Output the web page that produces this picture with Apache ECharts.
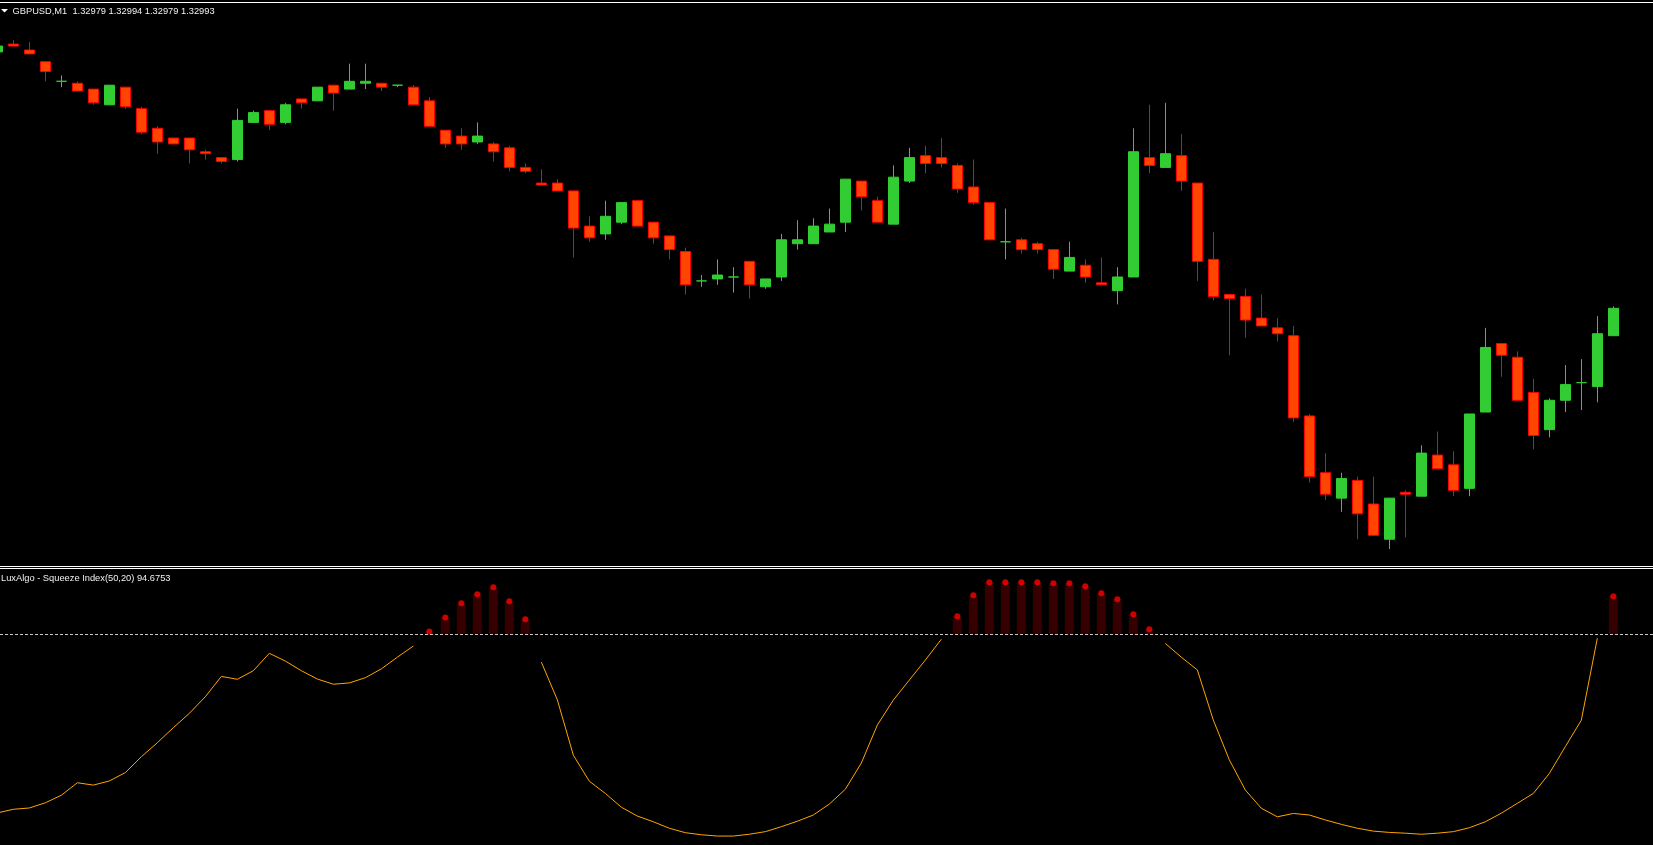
<!DOCTYPE html>
<html>
<head>
<meta charset="utf-8">
<script src="https://cdn.jsdelivr.net/npm/echarts@6/dist/echarts.min.js"></script>
<style>
html,body{margin:0;padding:0;background:#000;}
#c{width:1653px;height:845px;}
</style>
</head>
<body>
<div id="c"></div>
<script>
// ---- data (GBPUSD M1), one entry per bar, oldest first ----
const opens = [1.33124,1.33128,1.33125,1.33119,1.33109,1.33108,1.33105,1.33097,1.33106,1.33095,1.33085,1.33080,1.33080,1.33073,1.33070,1.33069,1.33088,1.33094,1.33088,1.33100,1.33099,1.33107,1.33105,1.33108,1.33108,1.33107,1.33106,1.33099,1.33084,1.33081,1.33078,1.33077,1.33075,1.33065,1.33057,1.33057,1.33053,1.33035,1.33031,1.33037,1.33048,1.33037,1.33030,1.33022,1.33007,1.33008,1.33009,1.33017,1.33004,1.33009,1.33026,1.33026,1.33032,1.33037,1.33058,1.33048,1.33036,1.33058,1.33071,1.33070,1.33066,1.33055,1.33047,1.33027,1.33028,1.33026,1.33023,1.33012,1.33015,1.33006,1.33002,1.33009,1.33070,1.33065,1.33071,1.33057,1.33018,1.33000,1.32999,1.32988,1.32983,1.32979,1.32938,1.32909,1.32896,1.32905,1.32893,1.32875,1.32899,1.32897,1.32918,1.32913,1.32901,1.32940,1.32975,1.32968,1.32950,1.32931,1.32946,1.32955,1.32953,1.32979];
const highs = [1.33127,1.33130,1.33129,1.33119,1.33112,1.33109,1.33105,1.33107,1.33106,1.33096,1.33086,1.33080,1.33080,1.33074,1.33070,1.33095,1.33094,1.33094,1.33098,1.33100,1.33106,1.33107,1.33118,1.33118,1.33108,1.33107,1.33107,1.33101,1.33084,1.33085,1.33088,1.33078,1.33076,1.33067,1.33064,1.33059,1.33053,1.33040,1.33048,1.33047,1.33048,1.33037,1.33030,1.33024,1.33010,1.33018,1.33014,1.33017,1.33008,1.33031,1.33038,1.33039,1.33044,1.33059,1.33058,1.33050,1.33066,1.33075,1.33076,1.33080,1.33067,1.33069,1.33047,1.33044,1.33029,1.33027,1.33023,1.33027,1.33018,1.33019,1.33014,1.33085,1.33097,1.33098,1.33082,1.33057,1.33032,1.33000,1.33003,1.33000,1.32988,1.32984,1.32939,1.32919,1.32909,1.32907,1.32907,1.32896,1.32900,1.32923,1.32930,1.32920,1.32939,1.32983,1.32975,1.32971,1.32957,1.32947,1.32964,1.32967,1.32989,1.32994];
const lows = [1.33124,1.33127,1.33123,1.33109,1.33106,1.33104,1.33097,1.33097,1.33095,1.33082,1.33072,1.33077,1.33067,1.33069,1.33067,1.33068,1.33088,1.33084,1.33087,1.33095,1.33099,1.33094,1.33105,1.33105,1.33104,1.33106,1.33097,1.33086,1.33075,1.33074,1.33077,1.33068,1.33063,1.33062,1.33056,1.33053,1.33019,1.33027,1.33028,1.33036,1.33035,1.33026,1.33018,1.33000,1.33004,1.33005,1.33001,1.32998,1.33003,1.33007,1.33023,1.33026,1.33032,1.33032,1.33043,1.33037,1.33036,1.33057,1.33062,1.33065,1.33052,1.33046,1.33028,1.33018,1.33021,1.33021,1.33008,1.33012,1.33006,1.33005,1.32995,1.33009,1.33062,1.33065,1.33053,1.33007,1.32997,1.32969,1.32978,1.32984,1.32976,1.32935,1.32904,1.32895,1.32889,1.32875,1.32877,1.32870,1.32876,1.32897,1.32911,1.32897,1.32897,1.32940,1.32958,1.32946,1.32921,1.32927,1.32940,1.32941,1.32945,1.32979];
const closes = [1.33127,1.33127,1.33123,1.33114,1.33109,1.33104,1.33098,1.33107,1.33096,1.33083,1.33078,1.33077,1.33074,1.33072,1.33068,1.33089,1.33093,1.33087,1.33097,1.33098,1.33106,1.33103,1.33109,1.33109,1.33106,1.33107,1.33097,1.33086,1.33077,1.33077,1.33081,1.33073,1.33065,1.33063,1.33056,1.33053,1.33034,1.33029,1.33040,1.33047,1.33035,1.33029,1.33023,1.33005,1.33007,1.33010,1.33009,1.33005,1.33008,1.33028,1.33028,1.33035,1.33036,1.33059,1.33050,1.33037,1.33060,1.33070,1.33067,1.33067,1.33054,1.33047,1.33028,1.33027,1.33023,1.33023,1.33013,1.33019,1.33009,1.33005,1.33009,1.33073,1.33066,1.33072,1.33058,1.33017,1.32999,1.32998,1.32987,1.32984,1.32980,1.32937,1.32907,1.32898,1.32906,1.32888,1.32877,1.32896,1.32898,1.32919,1.32911,1.32900,1.32939,1.32973,1.32969,1.32946,1.32928,1.32946,1.32954,1.32955,1.32980,1.32993];
// LuxAlgo Squeeze Index(50,20), same bars
const squeeze = [11.3,12.7,13.2,15.2,18.1,22.9,22.0,23.6,26.8,32.9,38.3,44.1,49.6,56.0,63.8,62.7,66.0,72.7,69.7,66.0,62.8,60.8,61.3,63.3,66.7,71.2,75.5,
  81.1,86.5,91.9,95.4,98.1,92.7,85.8,
  69.3,54.8,33.5,23.5,18.8,13.5,10.1,7.9,5.4,3.7,2.9,2.4,2.4,3.1,4.1,6.0,8.1,10.5,14.7,20.4,30.5,45.1,54.7,62.4,70.1,78.1,
  86.9,95.0,100,100,100,100,99.6,99.6,98.5,95.8,93.5,87.7,81.9,
  76.5,71.2,66.3,47.0,31.7,20.1,13.1,9.8,11.1,10.5,8.6,6.9,5.4,4.3,3.8,3.5,3.1,3.5,4.1,5.6,7.9,11.2,15.0,18.8,26.5,36.8,47.0,78.5,
  94.6753];
const LEVEL = 80;
const headerText = 'GBPUSD,M1  1.32979 1.32994 1.32979 1.32993';
const indicatorText = 'LuxAlgo - Squeeze Index(50,20) 94.6753';

// ---- build ----
// bar number on a value x axis (first, partly hidden bar is -1)
const UP = '#32CD32', DN_FILL = '#FF4500', DN_LINE = '#FF0000';
const candleData = opens.map((o, i) => {
  const up = closes[i] >= o;
  const c = up ? UP : DN_FILL, b = up ? UP : DN_LINE;
  return {value: [i - 1, o, closes[i], lows[i], highs[i]],
    itemStyle: {color: c, color0: c, borderColor: b, borderColor0: b, borderColorDoji: b}};
});
const lineData = squeeze.map((v, i) => [i - 1, v < LEVEL ? v : '-']);
const histData = squeeze.map((v, i) => [i - 1, v]).filter(p => p[1] >= LEVEL);

const X_MIN = -0.8333, X_MAX = 102.479;
const chart = echarts.init(document.getElementById('c'), null, {renderer: 'canvas'});
chart.setOption({
  animation: false,
  backgroundColor: '#000000',
  grid: [
    {left: 0, right: 0, top: 3, height: 563},
    {left: 0, right: 0, top: 569, height: 276}
  ],
  xAxis: [
    {type: 'value', gridIndex: 0, min: X_MIN, max: X_MAX, show: false, splitLine: {show: false}},
    {type: 'value', gridIndex: 1, min: X_MIN, max: X_MAX, show: false, splitLine: {show: false}}
  ],
  yAxis: [
    {type: 'value', gridIndex: 0, min: 1.3286132, max: 1.3314900, show: false, splitLine: {show: false}},
    {type: 'value', gridIndex: 1, min: -1.038, max: 105.12, show: false, splitLine: {show: false}}
  ],
  series: [
    {type: 'candlestick', xAxisIndex: 0, yAxisIndex: 0, data: candleData, barWidth: 10,
      encode: {x: 0, y: [1, 2, 3, 4]},
      itemStyle: {borderWidth: 1}},
    {type: 'custom', xAxisIndex: 1, yAxisIndex: 1, data: histData, encode: {x: 0, y: 1},
      renderItem: function (params, api) {
        const x = api.value(0), v = api.value(1);
        const top = api.coord([x, v]);
        const base = api.coord([x, LEVEL]);
        const w = api.size([1, 0])[0] * 9 / 16;
        return {type: 'rect', shape: {x: top[0] - w / 2, y: top[1], width: w, height: base[1] - top[1]},
          style: {fill: '#360000'}};
      }},
    {type: 'line', xAxisIndex: 1, yAxisIndex: 1, data: lineData, showSymbol: false, connectNulls: false,
      lineStyle: {color: '#FFA500', width: 1}, itemStyle: {color: '#FFA500'},
      markLine: {silent: true, symbol: 'none', label: {show: false},
        lineStyle: {color: '#C8C8C8', width: 1, type: [3, 2]},
        data: [{yAxis: LEVEL}]}},
    {type: 'scatter', xAxisIndex: 1, yAxisIndex: 1, data: histData, symbol: 'circle', symbolSize: 6,
      itemStyle: {color: '#FF0000'}}
  ],
  graphic: [
    {type: 'rect', shape: {x: 0, y: 2, width: 1653, height: 1}, style: {fill: '#FFFFFF'}, silent: true},
    {type: 'rect', shape: {x: 0, y: 566, width: 1653, height: 1}, style: {fill: '#FFFFFF'}, silent: true},
    {type: 'rect', shape: {x: 0, y: 568, width: 1653, height: 1}, style: {fill: '#FFFFFF'}, silent: true},
    {type: 'polygon', shape: {points: [[1, 9], [8, 9], [4.5, 12.5]]}, style: {fill: '#FFFFFF'}, silent: true},
    {type: 'text', x: 12.5, y: 11, style: {text: headerText, fill: '#F0F0F0',
      font: '9.3px "Liberation Sans", Arial, sans-serif', verticalAlign: 'middle'}, silent: true},
    {type: 'text', x: 1, y: 578, style: {text: indicatorText, fill: '#F0F0F0',
      font: '9.3px "Liberation Sans", Arial, sans-serif', verticalAlign: 'middle'}, silent: true}
  ]
});
</script>
</body>
</html>
